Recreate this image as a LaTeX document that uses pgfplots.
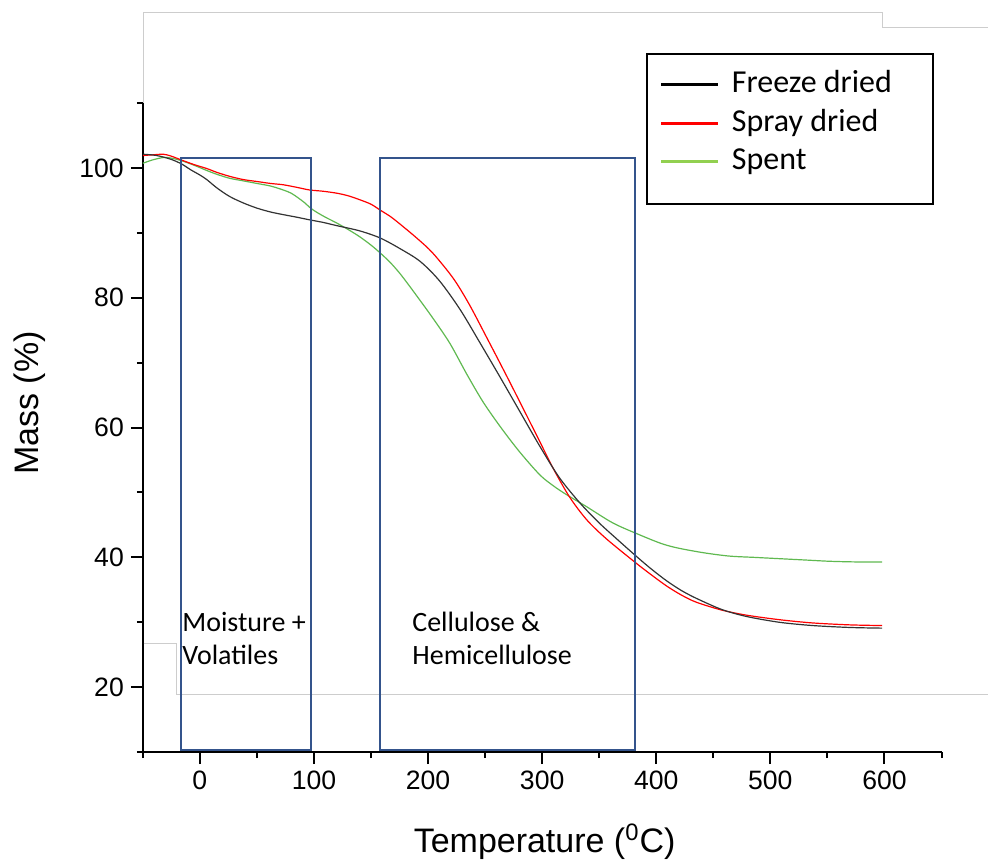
\documentclass[border=0pt]{standalone}
\usepackage{fontspec}
\setmainfont{Liberation Sans}
\newfontfamily\calibri{Carlito}
\usepackage{pgfplots}
\pgfplotsset{compat=1.18}
\definecolor{boxblue}{RGB}{52,84,140}
\definecolor{curvegreen}{RGB}{95,185,80}
\definecolor{leggreen}{RGB}{146,208,80}
\definecolor{artgray}{RGB}{205,205,205}

\pgfplotstableread{
x y
-50 102.1
-42 102.0
-35 101.8
-25 101.3
-16 100.6
-8 99.7
0 98.9
6 98.2
15 96.9
26 95.6
38 94.6
50 93.8
62 93.2
73 92.8
85 92.4
96 92.0
108 91.6
120 91.1
140 90.3
158 89.2
175 87.6
193 85.6
210 82.6
228 78.2
245 73.2
263 67.8
280 62.6
298 57.1
315 52.3
333 48.4
350 45.3
365 42.9
381 40.4
395 38.3
409 36.4
422 34.9
435 33.7
457 32.0
479 30.9
508 30.0
537 29.5
570 29.2
598 29.1
}\freeze

\pgfplotstableread{
x y
-50 101.9
-42 102.0
-32 102.1
-25 101.8
-16 101.2
-5 100.5
6 99.9
15 99.3
26 98.7
38 98.2
50 97.9
62 97.6
73 97.4
85 97.0
96 96.6
108 96.4
120 96.1
130 95.7
140 95.1
150 94.4
158 93.5
167 92.5
175 91.4
190 89.2
204 86.9
222 83.0
236 79.0
251 74.0
269 67.9
286 62.0
298 57.8
310 53.6
324 49.3
339 45.8
356 42.9
381 39.3
395 37.4
409 35.6
422 34.2
435 33.1
457 31.9
479 31.1
508 30.4
537 29.9
570 29.6
598 29.5
}\spray

\pgfplotstableread{
x y
-50 100.7
-42 101.2
-32 101.6
-25 101.5
-16 101.1
-5 100.4
6 99.6
15 99.0
26 98.4
38 98.0
50 97.6
62 97.2
73 96.6
80 96.1
86 95.4
92 94.6
97 93.8
103 93.1
110 92.4
120 91.5
130 90.5
140 89.4
150 88.1
158 86.9
167 85.4
175 83.8
182 82.2
190 80.3
204 76.9
219 73.0
234 68.2
248 64.0
263 60.2
280 56.3
298 52.7
310 51.0
321 49.7
339 47.8
362 45.3
385 43.5
405 42.1
420 41.4
442 40.7
464 40.2
486 40.0
508 39.8
530 39.6
552 39.4
575 39.3
598 39.3
}\spent

\begin{document}
\begin{tikzpicture}
\begin{axis}[
  scale only axis,
  width=399.6pt, height=324.8pt,
  xmin=-50, xmax=650, ymin=10, ymax=110,
  axis x line*=bottom, axis y line*=left,
  axis line style={line width=1pt, black},
  xtick={0,100,...,600},
  minor xtick={-50,50,150,250,350,450,550,650},
  ytick={20,40,...,100},
  minor ytick={10,30,50,70,90,110},
  tick align=outside,
  major tick length=6pt, minor tick length=3pt,
  every tick/.style={black, line width=1pt},
  /pgf/number format/assume math mode=true,
  tick label style={font=\fontsize{13.3}{15}\selectfont},
  xlabel={Temperature (\textsuperscript{0}C)},
  ylabel={Mass (\%)},
  xlabel style={font=\fontsize{17}{20}\selectfont, at={(axis description cs:0.503,-0.155)}, anchor=base},
  ylabel style={font=\fontsize{17}{20}\selectfont, at={(axis description cs:-0.1413,0.538)}, anchor=center},
  clip=false,
  legend style={draw=none, fill=none, at={(axis description cs:0.647,1.0513)}, anchor=north west,
    inner sep=0pt, row sep=5.5pt, font=\calibri\fontsize{16}{19.5}\selectfont,
    nodes={inner sep=0pt, text height=11pt, text depth=3pt},
    column sep=6pt},
  legend cell align=left,
  legend image code/.code={\draw[#1] (0pt,0pt) -- (28.5pt,0pt);},
]
% invisible bounding path matching the reference proportions
\path (axis cs:-175.2,125.86) rectangle (axis cs:691.1,-6.37);
% faint screenshot frame lines
\draw[artgray, line width=0.6pt] (axis cs:-49.4,110) -- (axis cs:-49.4,123.97) -- (axis cs:598.2,123.97) -- (axis cs:598.2,121.66) -- (axis cs:691.1,121.66);
\draw[artgray, line width=0.6pt] (axis cs:-49.4,26.72) -- (axis cs:-20.5,26.72) -- (axis cs:-20.5,18.87) -- (axis cs:691.1,18.87);

\addlegendimage{black, line width=1.5pt}
\addlegendentry{Freeze dried}
\addlegendimage{red, line width=1.5pt}
\addlegendentry{Spray dried}
\addlegendimage{leggreen, line width=1.5pt}
\addlegendentry{Spent}

\addplot[curvegreen, line width=0.6pt, smooth, forget plot] table {\spent};
\addplot[red, line width=0.6pt, smooth, forget plot] table {\spray};
\addplot[black!80, line width=0.6pt, smooth, forget plot] table {\freeze};

\draw[boxblue, line width=1pt] (axis cs:-16.6,10.4) rectangle (axis cs:97.2,101.54);
\draw[boxblue, line width=1pt] (axis cs:157.7,10.4) rectangle (axis cs:381.0,101.54);

\node[anchor=base west, inner sep=0pt, font=\calibri\fontsize{14}{17}\selectfont] at (axis cs:-15.7,28.57) {Moisture +};
\node[anchor=base west, inner sep=0pt, font=\calibri\fontsize{14}{17}\selectfont] at (axis cs:-15.7,23.49) {Volatiles};
\node[anchor=base west, inner sep=0pt, font=\calibri\fontsize{14}{17}\selectfont] at (axis cs:185.9,28.57) {Cellulose \&};
\node[anchor=base west, inner sep=0pt, font=\calibri\fontsize{14}{17}\selectfont] at (axis cs:185.9,23.49) {Hemicellulose};

\draw[black, line width=1pt] (axis description cs:0.6308,1.0754) rectangle (axis description cs:0.9899,0.8445);
\end{axis}
\end{tikzpicture}
\end{document}
